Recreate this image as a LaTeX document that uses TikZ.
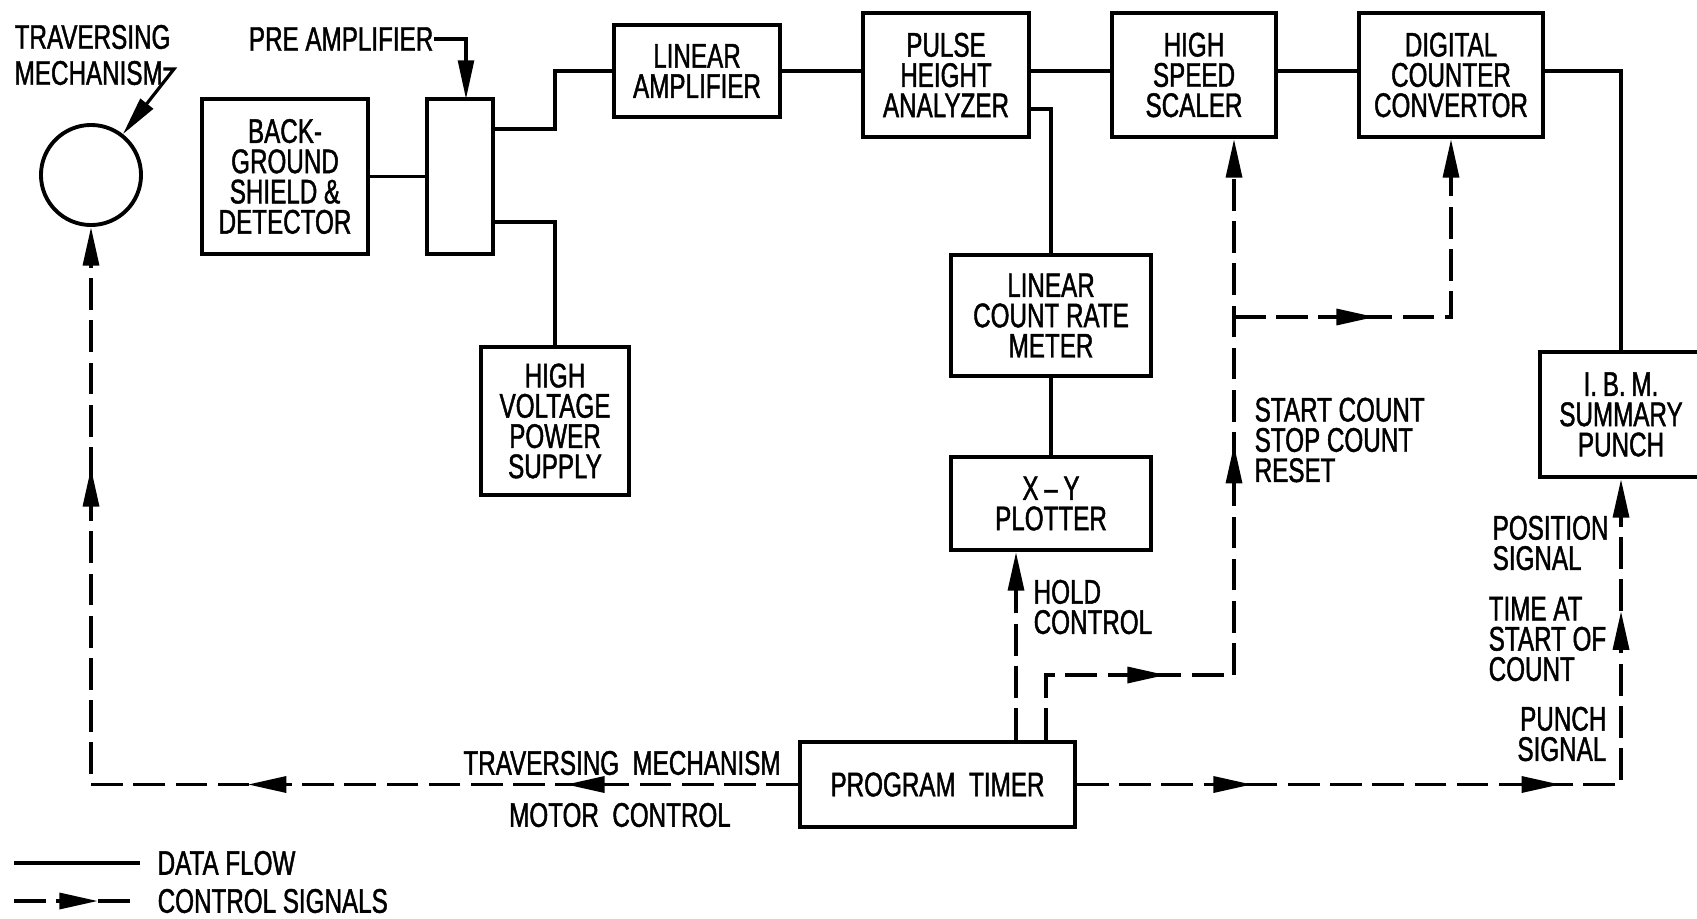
\documentclass[tikz,border=0pt]{standalone}
\usepackage{fontspec}
\setmainfont{Liberation Sans}[FakeStretch=0.71, FakeBold=1.3]
\usetikzlibrary{arrows.meta,decorations.markings}

\tikzset{
  tipA/.tip={Triangle[length=11pt,width=4.5pt]},
  blk/.style={draw, line width=1.1pt, align=center, inner sep=0pt},
  datal/.style={line width=1.1pt},
  ctrll/.style={line width=1.1pt, dash pattern=on 9pt off 3pt},
  leader/.style={line width=0.9pt, -tipA},
  arrowat/.style={postaction={decorate, decoration={markings, mark=at position #1 with {\arrow{tipA}}}}},
  lbl/.style={inner sep=0pt, align=left},
}

\begin{document}
\begin{tikzpicture}[x=0.01cm, y=-0.01cm, every node/.style={font=\fontsize{9.7}{8.6}\selectfont}]
  \useasboundingbox (0,0) rectangle (1697,918);

  % Detector end
  \node[circle, draw, line width=1.1pt, minimum size=1cm, inner sep=0pt] (travmech) at (91,175) {};
  \node[blk, minimum width=1.66cm, minimum height=1.55cm] (shield) at (285,176.5) {BACK-\\GROUND\\SHIELD \&\\DETECTOR};
  \node[blk, minimum width=0.66cm, minimum height=1.55cm] (preamp) at (460,176.5) {};
  \node[blk, minimum width=1.48cm, minimum height=1.48cm] (hvps) at (555,421) {HIGH\\VOLTAGE\\POWER\\SUPPLY};

  % Analyser chain
  \node[blk, minimum width=1.66cm, minimum height=0.92cm] (linamp) at (697,71) {LINEAR\\AMPLIFIER};
  \node[blk, minimum width=1.66cm, minimum height=1.24cm] (pha) at (946,75) {PULSE\\HEIGHT\\ANALYZER};
  \node[blk, minimum width=1.64cm, minimum height=1.24cm] (scaler) at (1194,75) {HIGH\\SPEED\\SCALER};
  \node[blk, minimum width=1.84cm, minimum height=1.24cm] (convertor) at (1451,75) {DIGITAL\\COUNTER\\CONVERTOR};
  \node[blk, minimum width=2cm, minimum height=1.21cm] (ratemeter) at (1051,315.5) {LINEAR\\COUNT RATE\\METER};
  \node[blk, minimum width=2cm, minimum height=0.93cm] (plotter) at (1051,503.5) {X\,--\,Y\\PLOTTER};
  \node[blk, minimum width=1.62cm, minimum height=1.25cm] (punch) at (1621,414.5) {I.\,B.\,M.\\SUMMARY\\PUNCH};
  \node[blk, minimum width=2.75cm, minimum height=0.85cm] (timer) at (937.5,784.5) {PROGRAM\ \ TIMER};

  % Data flow
  \coordinate (preHi) at (555,129);
  \coordinate (preLo) at (555,222);
  \coordinate (phaLo) at (1051,109);
  \draw[datal] (shield.east) -- (preamp.west);
  \draw[datal] (preamp.east |- preHi) -- (preHi) |- (linamp.west);
  \draw[datal] (preamp.east |- preLo) -- (preLo) -- (hvps.north);
  \draw[datal] (linamp.east) -- (pha.west |- linamp.east);
  \draw[datal] (pha.east |- linamp.east) -- (scaler.west |- linamp.east);
  \draw[datal] (scaler.east |- linamp.east) -- (convertor.west |- linamp.east);
  \draw[datal] (convertor.east |- linamp.east) -| (punch.north);
  \draw[datal] (pha.east |- phaLo) -| (ratemeter.north);
  \draw[datal] (ratemeter.south) -- (plotter.north);

  % Control signals
  \coordinate (holdX) at (1016,600);
  \coordinate (cntA) at (1046,675);
  \coordinate (cntB) at (1234,675);
  \coordinate (cntC) at (1234,317);
  \draw[ctrll, -tipA, arrowat=2.32cm, arrowat=5.5cm, arrowat=10.23cm] (timer.west) -| (travmech.south);
  \draw[ctrll, -tipA] (timer.north -| holdX) -- (plotter.south -| holdX);
  \draw[ctrll, -tipA, arrowat=1.85cm, arrowat=4.83cm] (timer.north -| cntA) -- (cntA) -- (cntB) -- (scaler.south -| cntB);
  \draw[ctrll, -tipA, arrowat=1.41cm] (cntC) -| (convertor.south);
  \draw[ctrll, -tipA, arrowat=1.75cm, arrowat=4.83cm, arrowat=7.17cm] (timer.east) -| (punch.south);

  % Labels
  \node[lbl, anchor=west] (travlbl1) at (14,37) {TRAVERSING};
  \node[lbl, anchor=west] (travlbl2) at (14,73) {MECHANISM};
  \coordinate (travBend) at (174,69);
  \draw[leader] (travlbl2.east |- travBend) -- (travBend) -- (travmech.52);
  \node[lbl, anchor=east] (prelbl) at (434,39) {PRE AMPLIFIER};
  \coordinate (preTip) at (466,99);
  \draw[leader] (prelbl.east) -| (preTip);

  \node[lbl] (motorlbl1) at (622,763) {TRAVERSING\ \ MECHANISM};
  \node[lbl] (motorlbl2) at (620,815) {MOTOR\ \ CONTROL};
  \node[lbl, anchor=west] (holdlbl) at (1033,607) {HOLD\\CONTROL};
  \node[lbl, anchor=west] (countlbl) at (1254,440) {START COUNT\\STOP COUNT\\RESET};
  \node[lbl, anchor=west] (poslbl) at (1492,543) {POSITION\\SIGNAL};
  \node[lbl, anchor=west] (timelbl) at (1488,639) {TIME AT\\START OF\\COUNT};
  \node[lbl, anchor=east, align=right] (punchlbl) at (1607,734) {PUNCH\\SIGNAL};

  % Legend
  \coordinate (lgA) at (14,863);
  \coordinate (lgB) at (140,863);
  \coordinate (lgC) at (14,901);
  \coordinate (lgD) at (140,901);
  \draw[datal] (lgA) -- (lgB);
  \draw[ctrll, arrowat=0.84cm] (lgC) -- (lgD);
  \node[lbl, anchor=west] (lgdata) at (157,863) {DATA FLOW};
  \node[lbl, anchor=west] (lgctrl) at (157,901) {CONTROL SIGNALS};
\end{tikzpicture}
\end{document}
